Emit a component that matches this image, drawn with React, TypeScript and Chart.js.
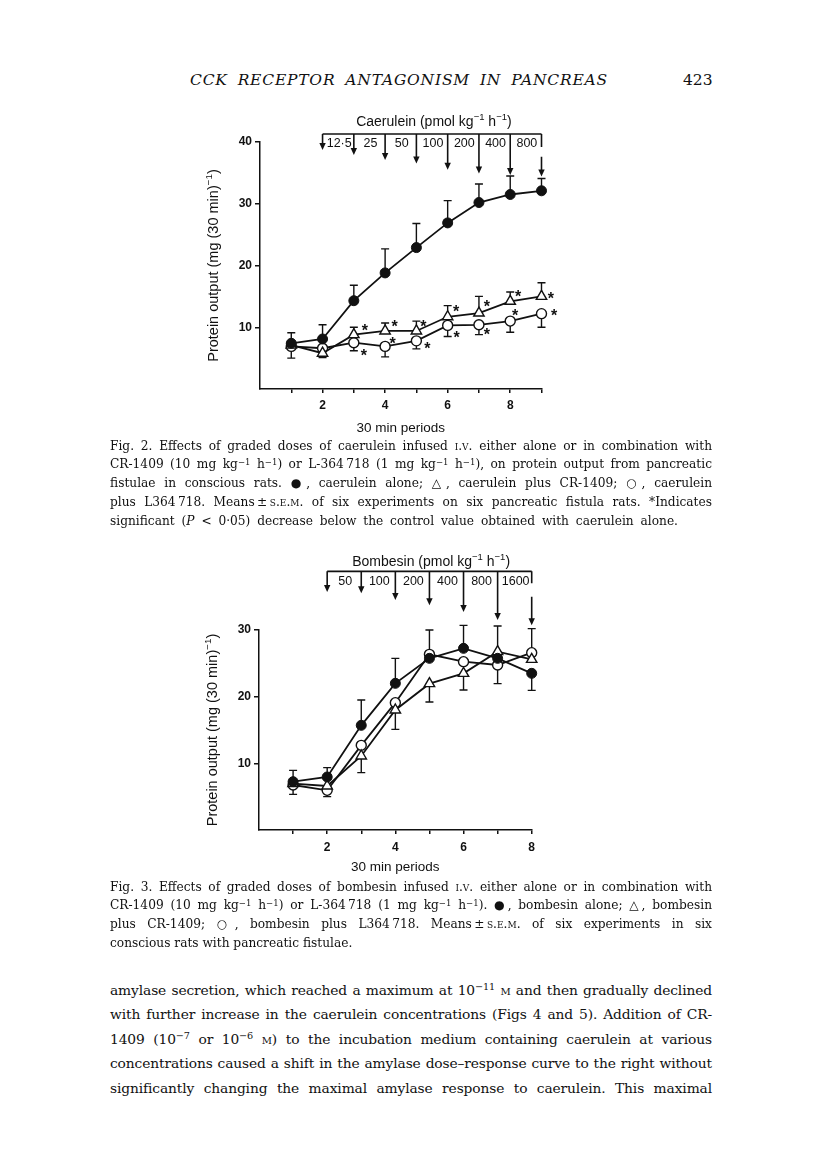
import React, { useEffect, useRef } from 'react';
import { Chart, registerables } from 'chart.js';
Chart.register(...registerables);

const INK = '#111';
const SANS = '"Liberation Sans", Arial, Helvetica, sans-serif';
const SERIF = '"DejaVu Serif", "Liberation Serif", serif';

// ---------- Fig. 2 (caerulein) ----------
const caeruleinPeriods = [1, 2, 3, 4, 5, 6, 7, 8, 9];
const caeruleinAlone = [7.4, 8.1, 14.3, 18.8, 22.9, 26.9, 30.2, 31.5, 32.1];
const caeruleinAloneUpper = [9.1, 10.4, 16.8, 22.7, 26.8, 30.5, 33.2, 34.5, 34.1];
const caeruleinCR = [7.1, 5.8, 8.8, 9.4, 9.4, 11.7, 12.3, 14.2, 15.0];
const caeruleinCRUpper = [null, null, 10.0, 10.7, 11.0, 13.5, 15.0, 15.7, 17.2];
const caeruleinCRLower = [null, 5.1, null, null, null, null, null, null, null];
const caeruleinL = [6.9, 6.6, 7.5, 6.9, 7.8, 10.3, 10.4, 11.0, 12.2];
const caeruleinLLower = [5.0, null, 6.2, 5.2, 6.5, 8.5, 8.8, 9.2, 10.0];
const caeruleinDoses = ['12·5', '25', '50', '100', '200', '400', '800'];
const caeruleinArrowTips = [38.7, 37.9, 37.1, 36.5, 35.5, 34.9, 34.65, 34.4];
const caeruleinAstCR: [number, number][] = [[3.35, 10.0], [4.3, 10.75], [5.22, 10.75], [6.27, 13.15], [7.25, 14.0], [8.25, 15.5], [9.3, 15.3]];
const caeruleinAstL: [number, number][] = [[3.32, 6.0], [4.24, 7.9], [5.35, 7.2], [6.29, 8.9], [7.25, 9.4], [8.16, 12.45], [9.4, 12.45]];
const caeruleinYTicks = [10, 20, 30, 40];

// ---------- Fig. 3 (bombesin) ----------
const bombesinPeriods = [1, 2, 3, 4, 5, 6, 7, 8];
const bombesinAlone = [7.25, 7.95, 15.7, 22.0, 25.75, 27.25, 25.75, 23.5];
const bombesinAloneUpper = [8.95, 9.35, 19.5, 25.75, null, 30.7, null, null];
const bombesinAloneLower = [null, null, null, null, null, null, null, 20.95];
const bombesinCR = [6.95, 6.6, 11.1, 18.0, 21.95, 23.5, 26.75, 25.6];
const bombesinCRUpper = [null, null, null, null, null, null, 30.6, null];
const bombesinCRLower = [null, null, 8.6, 15.1, 19.2, 21.0, null, null];
const bombesinL = [6.75, 5.95, 12.7, 19.1, 26.35, 25.25, 24.75, 26.6];
const bombesinLUpper = [null, null, null, null, 30.0, null, null, 30.2];
const bombesinLLower = [5.35, 5.0, null, null, null, null, 21.95, null];
const bombesinDoses = ['50', '100', '200', '400', '800', '1600'];
const bombesinArrowTips = [35.7, 35.5, 34.5, 33.7, 32.7, 31.5, 30.7];
const bombesinYTicks = [10, 20, 30];

type Rich = [string, boolean][];
const doseUnit = (name: string): Rich => [[name + ' (pmol kg', false], ['−1', true], [' h', false], ['−1', true], [')', false]];
const yTitle: Rich = [['Protein output (mg (30 min)', false], ['−1', true], [')', false]];

function drawRich(ctx: CanvasRenderingContext2D, parts: Rich, cx: number, cy: number, size: number) {
  const f = (s: number) => `normal ${s}px ${SANS}`;
  const ss = size * 0.68;
  let total = 0;
  const ws = parts.map(([t, sup]) => { ctx.font = f(sup ? ss : size); const w = ctx.measureText(t).width; total += w; return w; });
  let x = cx - total / 2;
  const base = cy + size * 0.36;
  ctx.textAlign = 'left';
  ctx.textBaseline = 'alphabetic';
  parts.forEach(([t, sup], i) => {
    ctx.font = f(sup ? ss : size);
    ctx.fillText(t, x, sup ? base - size * 0.4 : base);
    x += ws[i];
  });
}

type Spec = {
  errors: { xs: number[]; vals: number[]; ends: (number | null)[] }[];
  arrowX: number[];
  tips: number[];
  barY: number;
  stubEnd: number;
  lastStart: number;
  labels: string[];
  labelY: number;
  title: Rich;
  titleX: number;
  titleY: number;
  asterisks: [number, number][];
};

function annotPlugin(spec: Spec) {
  return {
    id: 'figAnnot',
    beforeDatasetsDraw(chart: any) {
      const { ctx, scales: { x, y } } = chart;
      ctx.save();
      ctx.strokeStyle = INK;
      ctx.lineWidth = 1.4;
      spec.errors.forEach(({ xs, vals, ends }) => {
        ends.forEach((e, i) => {
          if (e == null) return;
          const px = x.getPixelForValue(xs[i]);
          const p0 = y.getPixelForValue(vals[i]);
          const p1 = y.getPixelForValue(e);
          ctx.beginPath();
          ctx.moveTo(px, p0); ctx.lineTo(px, p1);
          ctx.moveTo(px - 4, p1); ctx.lineTo(px + 4, p1);
          ctx.stroke();
        });
      });
      ctx.restore();
    },
    afterDraw(chart: any) {
      const { ctx, scales: { x, y }, chartArea } = chart;
      ctx.save();
      ctx.strokeStyle = INK;
      ctx.fillStyle = INK;
      ctx.lineWidth = 1.6;
      const n = spec.arrowX.length;
      const by = y.getPixelForValue(spec.barY);
      const head = (px: number, py: number) => {
        ctx.beginPath();
        ctx.moveTo(px, py);
        ctx.lineTo(px - 3.2, py - 7);
        ctx.lineTo(px + 3.2, py - 7);
        ctx.closePath();
        ctx.fill();
      };
      ctx.beginPath();
      ctx.moveTo(x.getPixelForValue(spec.arrowX[0]), by);
      ctx.lineTo(x.getPixelForValue(spec.arrowX[n - 1]), by);
      ctx.stroke();
      spec.arrowX.forEach((ax, i) => {
        const px = x.getPixelForValue(ax);
        const tip = y.getPixelForValue(spec.tips[i]);
        ctx.beginPath();
        if (i < n - 1) {
          ctx.moveTo(px, by); ctx.lineTo(px, tip - 5);
        } else {
          ctx.moveTo(px, by); ctx.lineTo(px, y.getPixelForValue(spec.stubEnd));
          ctx.moveTo(px, y.getPixelForValue(spec.lastStart)); ctx.lineTo(px, tip - 5);
        }
        ctx.stroke();
        head(px, tip);
      });
      ctx.font = `normal 12.5px ${SANS}`;
      ctx.textAlign = 'center';
      ctx.textBaseline = 'alphabetic';
      spec.labels.forEach((l, i) => {
        const mx = (x.getPixelForValue(spec.arrowX[i]) + x.getPixelForValue(spec.arrowX[i + 1])) / 2;
        ctx.fillText(l, mx + 1, y.getPixelForValue(spec.labelY) + 4.5);
      });
      drawRich(ctx, spec.title, x.getPixelForValue(spec.titleX), y.getPixelForValue(spec.titleY), 14);
      ctx.font = `bold 16px ${SANS}`;
      ctx.textAlign = 'center';
      spec.asterisks.forEach(([ax, ay]) => {
        ctx.fillText('*', x.getPixelForValue(ax), y.getPixelForValue(ay) + 9);
      });
      ctx.translate(chartArea.left - 47, (chartArea.top + chartArea.bottom) / 2);
      ctx.rotate(-Math.PI / 2);
      drawRich(ctx, yTitle, 0, 0, 14.5);
      ctx.restore();
    },
  };
}

const filled = { pointStyle: 'circle', pointRadius: 5, pointBackgroundColor: INK, pointBorderColor: INK, pointBorderWidth: 1 };
const openTri = { pointStyle: 'triangle', pointRadius: 6, pointBackgroundColor: '#fff', pointBorderColor: INK, pointBorderWidth: 1.4 };
const openCirc = { pointStyle: 'circle', pointRadius: 5, pointBackgroundColor: '#fff', pointBorderColor: INK, pointBorderWidth: 1.4 };

function series(xs: number[], ys: number[], style: any) {
  return {
    data: xs.map((v, i) => ({ x: v, y: ys[i] })),
    borderColor: INK,
    borderWidth: 1.8,
    tension: 0,
    clip: false as any,
    ...style,
  };
}

type Box = { padTop: number; padRight: number; yWidth: number; xHeight: number; xMax: number; yMax: number; yTicks: number[]; tickPad: number; titlePad: number };

function makeConfig(datasets: any[], box: Box, spec: Spec) {
  return {
    type: 'line' as const,
    data: { datasets },
    plugins: [annotPlugin(spec)],
    options: {
      animation: false as const,
      responsive: false,
      devicePixelRatio: 1,
      layout: { padding: { top: box.padTop, right: box.padRight, left: 0, bottom: 0 } },
      plugins: { legend: { display: false }, tooltip: { enabled: false } },
      scales: {
        x: {
          type: 'linear' as const,
          min: 0,
          max: box.xMax,
          afterBuildTicks: (s: any) => { s.ticks = Array.from({ length: box.xMax }, (_, i) => ({ value: i + 1 })); },
          afterFit: (s: any) => { s.height = box.xHeight; },
          ticks: {
            autoSkip: false, maxRotation: 0, padding: box.tickPad, color: INK,
            font: { family: SANS, size: 12, weight: 'bold' as const },
            callback: (v: any) => (Number(v) % 2 === 0 ? String(v) : ''),
          },
          grid: { drawOnChartArea: false, drawTicks: true, tickLength: 4, color: INK, lineWidth: 1.5 },
          border: { display: true, color: INK, width: 1.5 },
          title: { display: true, text: '30 min periods', color: INK, font: { family: SANS, size: 13.5 }, padding: { top: 0, bottom: box.titlePad } },
        },
        y: {
          type: 'linear' as const,
          min: 0,
          max: box.yMax,
          afterBuildTicks: (s: any) => { s.ticks = box.yTicks.map((v) => ({ value: v })); },
          afterFit: (s: any) => { s.width = box.yWidth; },
          ticks: { padding: 3, color: INK, font: { family: SANS, size: 12, weight: 'bold' as const } },
          grid: { drawOnChartArea: false, drawTicks: true, tickLength: 5, color: INK, lineWidth: 1.5 },
          border: { display: true, color: INK, width: 1.5 },
        },
      },
    },
  };
}

function ChartCanvas({ config, left, top, width, height }: any) {
  const ref = useRef<HTMLCanvasElement>(null);
  useEffect(() => {
    const c = new Chart(ref.current as HTMLCanvasElement, config());
    return () => c.destroy();
  }, []);
  return <canvas ref={ref} width={width} height={height} style={{ position: 'absolute', left, top, width, height }} />;
}

const topConfig = () =>
  makeConfig(
    [
      series(caeruleinPeriods, caeruleinAlone, filled),
      series(caeruleinPeriods, caeruleinCR, openTri),
      series(caeruleinPeriods, caeruleinL, openCirc),
    ],
    { padTop: 42, padRight: 28.5, yWidth: 80, xHeight: 51, xMax: 9, yMax: 40, yTicks: caeruleinYTicks, tickPad: 5, titlePad: 3.9 },
    {
      errors: [
        { xs: caeruleinPeriods, vals: caeruleinAlone, ends: caeruleinAloneUpper },
        { xs: caeruleinPeriods, vals: caeruleinCR, ends: caeruleinCRUpper },
        { xs: caeruleinPeriods, vals: caeruleinCR, ends: caeruleinCRLower },
        { xs: caeruleinPeriods, vals: caeruleinL, ends: caeruleinLLower },
      ],
      arrowX: [2, 3, 4, 5, 6, 7, 8, 9],
      tips: caeruleinArrowTips,
      barY: 41.3,
      stubEnd: 39.2,
      lastStart: 37.6,
      labels: caeruleinDoses,
      labelY: 39.85,
      title: doseUnit('Caerulein'),
      titleX: 5.56,
      titleY: 43.4,
      asterisks: [...caeruleinAstCR, ...caeruleinAstL],
    }
  );

const bottomConfig = () =>
  makeConfig(
    [
      series(bombesinPeriods, bombesinAlone, filled),
      series(bombesinPeriods, bombesinCR, openTri),
      series(bombesinPeriods, bombesinL, openCirc),
    ],
    { padTop: 90, padRight: 38.3, yWidth: 79, xHeight: 60, xMax: 8, yMax: 30, yTicks: bombesinYTicks, tickPad: 6, titlePad: 14.9 },
    {
      errors: [
        { xs: bombesinPeriods, vals: bombesinAlone, ends: bombesinAloneUpper },
        { xs: bombesinPeriods, vals: bombesinAlone, ends: bombesinAloneLower },
        { xs: bombesinPeriods, vals: bombesinCR, ends: bombesinCRUpper },
        { xs: bombesinPeriods, vals: bombesinCR, ends: bombesinCRLower },
        { xs: bombesinPeriods, vals: bombesinL, ends: bombesinLUpper },
        { xs: bombesinPeriods, vals: bombesinL, ends: bombesinLLower },
      ],
      arrowX: [2, 3, 4, 5, 6, 7, 8],
      tips: bombesinArrowTips,
      barY: 38.8,
      stubEnd: 37.0,
      lastStart: 35.0,
      labels: bombesinDoses,
      labelY: 37.5,
      title: doseUnit('Bombesin'),
      titleX: 5.05,
      titleY: 40.4,
      asterisks: [],
    }
  );

const Sup = ({ children }: any) => (
  <span style={{ fontSize: '0.7em', position: 'relative', top: '-0.45em', lineHeight: 0 }}>{children}</span>
);
const SC = ({ children }: any) => <span style={{ fontVariant: 'small-caps' }}>{children}</span>;
const Dose = () => (
  <>
    kg<Sup>−1</Sup> h<Sup>−1</Sup>
  </>
);

function Lines({ top, size, lh, lines, lastFull, ls }: { top: number; size: number; lh: number; lines: any[]; lastFull?: boolean; ls?: number }) {
  return (
    <div style={{ position: 'absolute', left: 110, top, width: 602, fontFamily: SERIF, fontSize: size, lineHeight: lh + 'px', letterSpacing: ls || 0, color: INK }}>
      {lines.map((l, i) => {
        const just = i < lines.length - 1 || lastFull;
        return (
          <div key={i} style={{ whiteSpace: 'nowrap', height: lh, textAlign: just ? 'justify' : 'left', textAlignLast: just ? 'justify' : 'left' } as any}>
            {l}
          </div>
        );
      })}
    </div>
  );
}

const L364 = 'L-364\u2009718';
const PM = '\u2009±\u2009';

export default function App() {
  return (
    <div style={{ position: 'absolute', left: 0, top: 0, width: 816, height: 1170, background: '#fff', overflow: 'hidden' }}>
      <div style={{ position: 'absolute', left: 190, top: 70, width: 418, fontFamily: SERIF, fontStyle: 'italic', fontSize: 15.5, lineHeight: '20px', letterSpacing: 0.8, whiteSpace: 'nowrap', textAlign: 'justify', textAlignLast: 'justify', color: INK } as any}>
        CCK RECEPTOR ANTAGONISM IN PANCREAS
      </div>
      <div style={{ position: 'absolute', left: 683, top: 70, fontFamily: SERIF, fontSize: 15.5, lineHeight: '20px', color: INK }}>423</div>

      <ChartCanvas config={topConfig} left={180} top={100} width={390} height={340} />

      <Lines
        top={436.6}
        size={12.2}
        lh={18.75}
        lines={[
          <>Fig. 2. Effects of graded doses of caerulein infused <SC>i.v.</SC> either alone or in combination with</>,
          <>CR-1409 (10 mg <Dose />) or {L364} (1 mg <Dose />), on protein output from pancreatic</>,
          <>fistulae in conscious rats. ●, caerulein alone; △, caerulein plus CR-1409; ○, caerulein</>,
          <>plus L364{'\u2009'}718. Means{PM}<SC>s.e.m.</SC> of six experiments on six pancreatic fistula rats. *Indicates</>,
          <span style={{ wordSpacing: 3 }}>significant (<i>P</i> &lt; 0·05) decrease below the control value obtained with caerulein alone.</span>,
        ]}
      />

      <ChartCanvas config={bottomConfig} left={180} top={540} width={390} height={350} />

      <Lines
        top={877.6}
        size={12.2}
        lh={18.75}
        lines={[
          <>Fig. 3. Effects of graded doses of bombesin infused <SC>i.v.</SC> either alone or in combination with</>,
          <>CR-1409 (10 mg <Dose />) or {L364} (1 mg <Dose />). ●, bombesin alone; △, bombesin</>,
          <>plus CR-1409; ○, bombesin plus L364{'\u2009'}718. Means{PM}<SC>s.e.m.</SC> of six experiments in six</>,
          <>conscious rats with pancreatic fistulae.</>,
        ]}
      />

      <Lines
        top={977.7}
        size={13.8}
        lh={24.5}
        ls={-0.12}
        lastFull
        lines={[
          <>amylase secretion, which reached a maximum at 10<Sup>−11</Sup> <SC>m</SC> and then gradually declined</>,
          <>with further increase in the caerulein concentrations (Figs 4 and 5). Addition of CR-</>,
          <>1409 (10<Sup>−7</Sup> or 10<Sup>−6</Sup> <SC>m</SC>) to the incubation medium containing caerulein at various</>,
          <>concentrations caused a shift in the amylase dose–response curve to the right without</>,
          <>significantly changing the maximal amylase response to caerulein. This maximal</>,
        ]}
      />
    </div>
  );
}
